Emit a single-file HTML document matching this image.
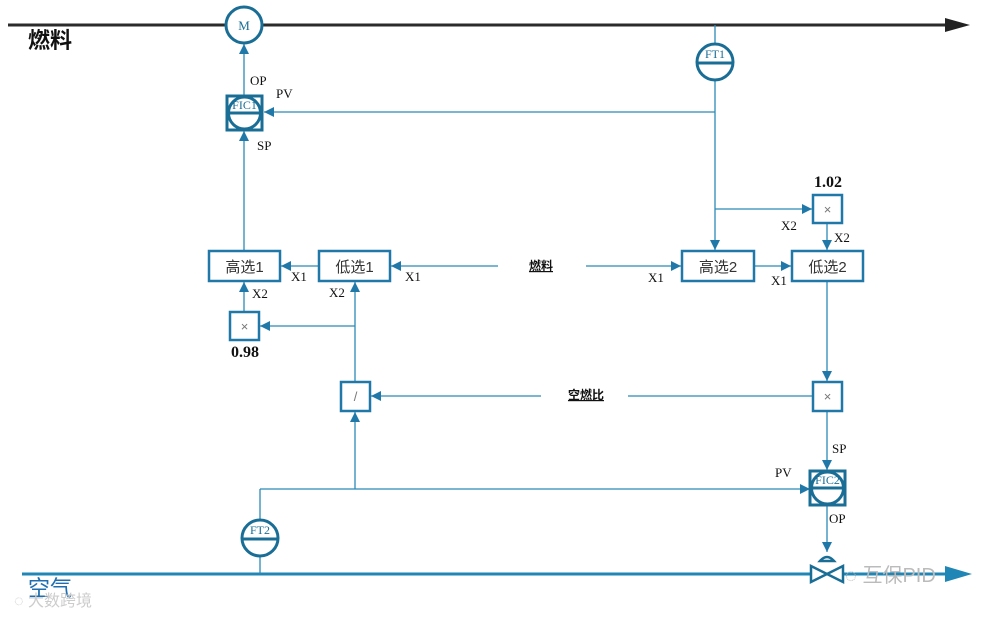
<!DOCTYPE html>
<html><head><meta charset="utf-8"><style>
html,body{margin:0;padding:0;background:#fff;width:991px;height:617px;overflow:hidden}
svg{display:block}
.t{font-family:"Liberation Serif","Noto Serif CJK SC",serif;font-size:13px;fill:#111}
.c{font-family:"Liberation Sans","Noto Sans CJK SC",sans-serif;font-size:15px;fill:#333}
</style></head><body>
<svg width="991" height="617" viewBox="0 0 991 617" xmlns="http://www.w3.org/2000/svg">
<defs>
<marker id="a" viewBox="0 0 10 10" refX="10" refY="5" markerWidth="10" markerHeight="10" markerUnits="userSpaceOnUse" orient="auto"><path d="M0,0L10,5L0,10z" fill="#1f78a8"/></marker>
</defs>
<line x1="8" y1="25" x2="948" y2="25" stroke="#2b2b2b" stroke-width="3"/>
<path d="M945,18L970,25L945,32z" fill="#222"/>
<text x="28" y="48" font-family="Liberation Sans,Noto Sans CJK SC,sans-serif" font-size="22" font-weight="bold" fill="#111">燃料</text>
<line x1="22" y1="574" x2="950" y2="574" stroke="#1f86b5" stroke-width="3"/>
<path d="M945,566L972,574L945,582z" fill="#1f86b5"/>
<text x="28" y="596" font-family="Liberation Sans,Noto Sans CJK SC,sans-serif" font-size="22" fill="#1f6fb0">空气</text>
<text x="14" y="606" font-family="Liberation Sans,Noto Sans CJK SC,sans-serif" font-size="16" fill="#ccc">◌ 大数跨境</text>
<text x="845" y="582" font-family="Liberation Sans,Noto Sans CJK SC,sans-serif" font-size="20" fill="#bbb">◌ 互保PID</text>

<g stroke="#2b8ab8" stroke-width="1.3" fill="none">
<line x1="244" y1="95" x2="244" y2="44" marker-end="url(#a)"/>
<line x1="715" y1="25" x2="715" y2="44"/>
<line x1="715" y1="80" x2="715" y2="250" marker-end="url(#a)"/>
<line x1="715" y1="112" x2="264" y2="112" marker-end="url(#a)"/>
<line x1="715" y1="209" x2="812" y2="209" marker-end="url(#a)"/>
<line x1="827" y1="224" x2="827" y2="250" marker-end="url(#a)"/>
<line x1="244" y1="250" x2="244" y2="131" marker-end="url(#a)"/>
<line x1="318" y1="266" x2="281" y2="266" marker-end="url(#a)"/>
<line x1="498" y1="266" x2="391" y2="266" marker-end="url(#a)"/>
<line x1="586" y1="266" x2="681" y2="266" marker-end="url(#a)"/>
<line x1="754" y1="266" x2="791" y2="266" marker-end="url(#a)"/>
<line x1="244" y1="311" x2="244" y2="282" marker-end="url(#a)"/>
<line x1="355" y1="326" x2="260" y2="326" marker-end="url(#a)"/>
<line x1="355" y1="381" x2="355" y2="282" marker-end="url(#a)"/>
<line x1="827" y1="281" x2="827" y2="381" marker-end="url(#a)"/>
<line x1="541" y1="396" x2="371" y2="396" marker-end="url(#a)"/>
<line x1="628" y1="396" x2="813" y2="396"/>
<line x1="827" y1="411" x2="827" y2="470" marker-end="url(#a)"/>
<line x1="260" y1="519" x2="260" y2="489"/>
<line x1="260" y1="489" x2="810" y2="489" marker-end="url(#a)"/>
<line x1="355" y1="489" x2="355" y2="412" marker-end="url(#a)"/>
<line x1="260" y1="557" x2="260" y2="574"/>
<line x1="827" y1="505" x2="827" y2="552" marker-end="url(#a)"/>
</g>

<circle cx="244" cy="25" r="18" fill="#fff" stroke="#1a6e96" stroke-width="3"/>
<text x="244" y="30" text-anchor="middle" class="t" font-size="14" style="fill:#1a6e96">M</text>
<g stroke="#1a6e96" stroke-width="3" fill="#fff">
<rect x="227" y="96" width="35" height="34"/>
<circle cx="244.5" cy="113" r="16"/>
<line x1="228" y1="113" x2="261" y2="113"/>
<rect x="810" y="471" width="35" height="34"/>
<circle cx="827.5" cy="488" r="16"/>
<line x1="811" y1="488" x2="844" y2="488"/>
<circle cx="715" cy="62" r="18"/>
<line x1="697" y1="63" x2="733" y2="63"/>
<circle cx="260" cy="538" r="18"/>
<line x1="242" y1="539" x2="278" y2="539"/>
</g>
<text x="244.5" y="109" text-anchor="middle" class="t" style="fill:#1a6e96;font-size:12px">FIC1</text>
<text x="827.5" y="484" text-anchor="middle" class="t" style="fill:#1a6e96;font-size:12px">FIC2</text>
<text x="715" y="58" text-anchor="middle" class="t" style="fill:#1a6e96;font-size:12px">FT1</text>
<text x="260" y="534" text-anchor="middle" class="t" style="fill:#1a6e96;font-size:12px">FT2</text>

<g stroke="#1a6e96" stroke-width="2.5" fill="#fff">
<path d="M811,566L827,574L811,582z"/>
<path d="M843,566L827,574L843,582z"/>
<path d="M820,561Q827,553 834,561z"/>
</g>

<g stroke="#1f78a8" stroke-width="2.5" fill="#fff">
<rect x="209" y="251" width="71" height="30"/>
<rect x="319" y="251" width="71" height="30"/>
<rect x="682" y="251" width="72" height="30"/>
<rect x="792" y="251" width="71" height="30"/>
<rect x="230" y="312" width="29" height="28"/>
<rect x="341" y="382" width="29" height="29"/>
<rect x="813" y="382" width="29" height="29"/>
<rect x="813" y="195" width="29" height="28"/>
</g>
<text x="244.5" y="272" text-anchor="middle" class="c">高选1</text>
<text x="354.5" y="272" text-anchor="middle" class="c">低选1</text>
<text x="718" y="272" text-anchor="middle" class="c">高选2</text>
<text x="827.5" y="272" text-anchor="middle" class="c">低选2</text>
<text x="244.5" y="331" text-anchor="middle" class="c" style="fill:#777;font-size:13px">×</text>
<text x="827.5" y="214" text-anchor="middle" class="c" style="fill:#777;font-size:13px">×</text>
<text x="827.5" y="401" text-anchor="middle" class="c" style="fill:#777;font-size:13px">×</text>
<text x="355.5" y="401" text-anchor="middle" class="c" style="fill:#777;font-size:13px">/</text>

<text x="250" y="85" class="t">OP</text>
<text x="276" y="98" class="t">PV</text>
<text x="257" y="150" class="t">SP</text>
<text x="291" y="281" class="t">X1</text>
<text x="405" y="281" class="t">X1</text>
<text x="252" y="298" class="t">X2</text>
<text x="329" y="297" class="t">X2</text>
<text x="648" y="282" class="t">X1</text>
<text x="771" y="285" class="t">X1</text>
<text x="781" y="230" class="t">X2</text>
<text x="834" y="242" class="t">X2</text>
<text x="832" y="453" class="t">SP</text>
<text x="775" y="477" class="t">PV</text>
<text x="829" y="523" class="t">OP</text>
<text x="828" y="187" text-anchor="middle" class="t" style="font-size:16px;font-weight:bold">1.02</text>
<text x="245" y="357" text-anchor="middle" class="t" style="font-size:16px;font-weight:bold">0.98</text>
<text x="541" y="270" text-anchor="middle" font-family="Liberation Sans,Noto Sans CJK SC,sans-serif" font-size="12" font-weight="bold" text-decoration="underline" fill="#111">燃料</text>
<text x="586" y="399" text-anchor="middle" font-family="Liberation Sans,Noto Sans CJK SC,sans-serif" font-size="12" font-weight="bold" text-decoration="underline" fill="#111">空燃比</text>
</svg>
</body></html>
